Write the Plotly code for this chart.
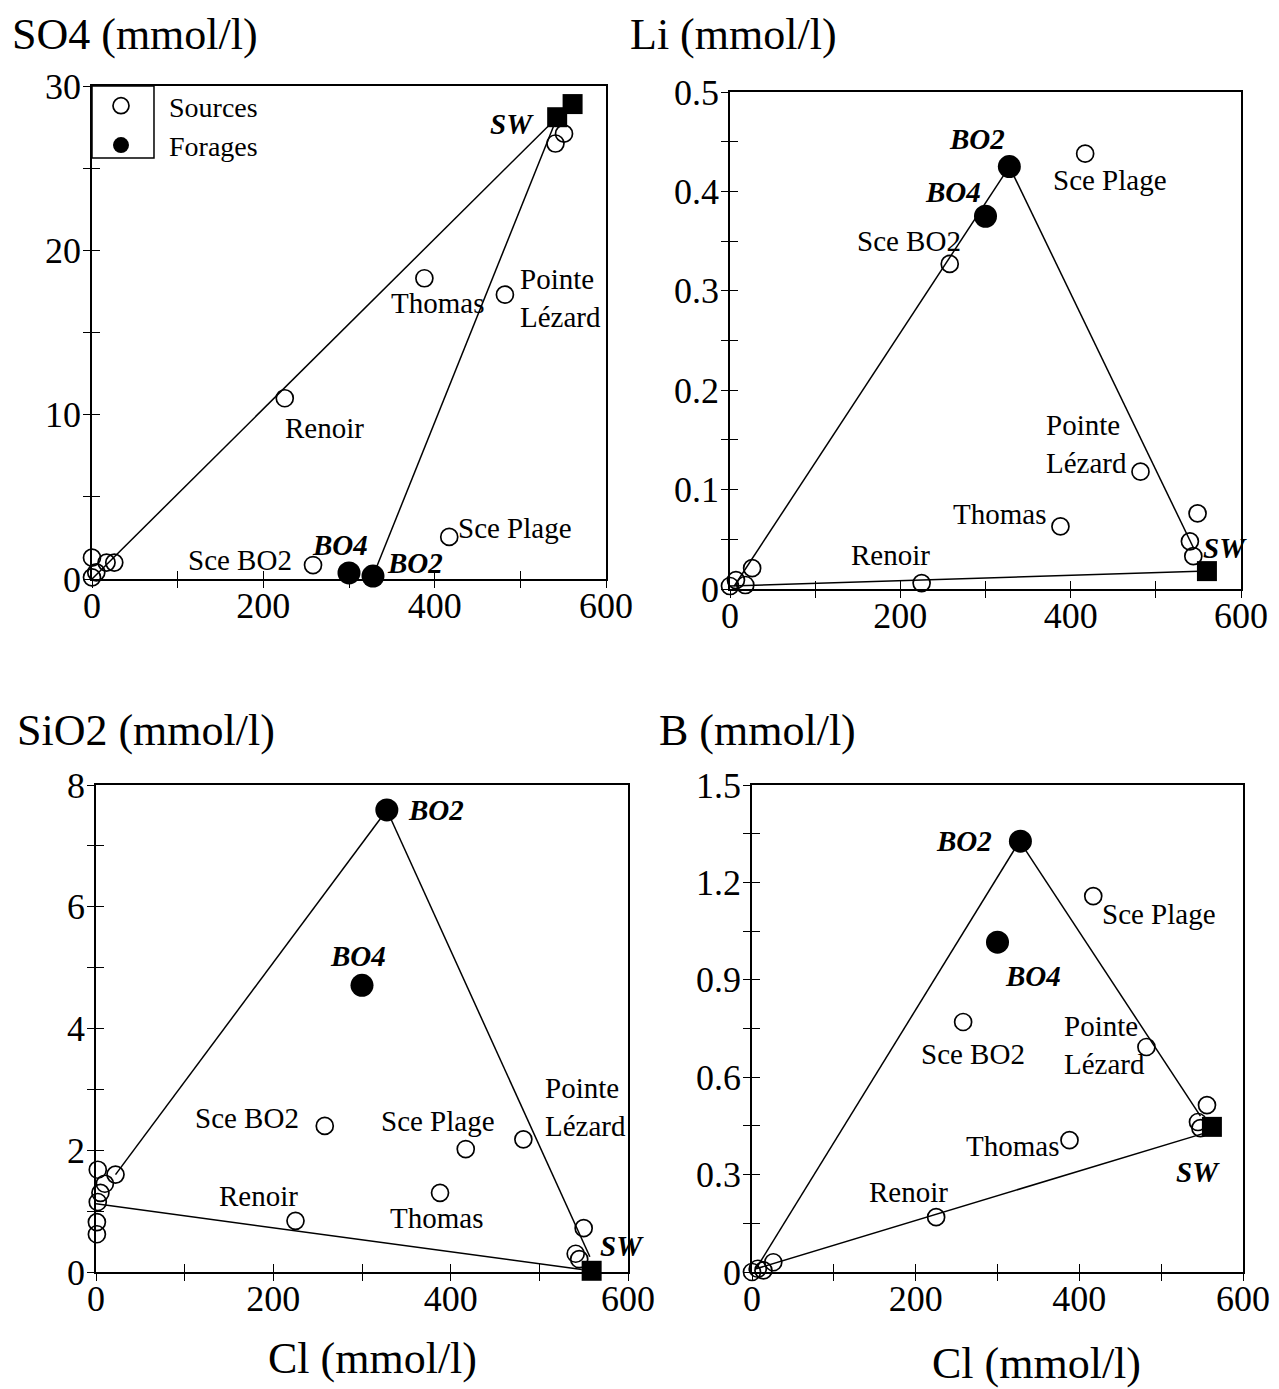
import plotly.graph_objects as go

FONT = "Liberation Serif"

# ---------------- data (Cl in mmol/l on x) ----------------
named_labels = ["Renoir", "Thomas", "Pointe<br>Lézard", "Sce Plage", "Sce BO2"]
named_cl = [225, 388, 482, 417, 258]
bo_labels = ["BO2", "BO4"]
bo_cl = [328, 300]

# SO4 panel
so4_fresh_cl = [0, 17, 26, 5, 0]
so4_fresh = [1.3, 1.0, 1.0, 0.4, 0.1]
so4_named = [11.0, 18.3, 17.3, 2.56, 0.85]
so4_sea_cl = [541, 551]
so4_sea = [26.5, 27.1]
so4_bo = [0.18, 0.37]
so4_sw_cl = [543, 561]
so4_sw = [28.1, 28.9]
so4_lines = [([0, 543], [0.0, 28.1]), ([328, 543], [0.18, 28.1])]

# Li panel
li_fresh_cl = [0, 7, 18, 26]
li_fresh = [0.003, 0.009, 0.004, 0.021]
li_named = [0.006, 0.063, 0.118, 0.438, 0.327]
li_sea_cl = [549, 540, 544]
li_sea = [0.076, 0.048, 0.033]
li_bo = [0.425, 0.375]
li_sw_cl = [560]
li_sw = [0.018]
li_lines = [([5, 328], [0.003, 0.425]), ([328, 545], [0.425, 0.040]),
            ([0, 560], [0.003, 0.018])]

# SiO2 panel
si_fresh_cl = [2, 22, 10, 5, 2, 1, 1]
si_fresh = [1.68, 1.60, 1.45, 1.30, 1.15, 0.82, 0.62]
si_named = [0.84, 1.30, 2.18, 2.02, 2.40]
si_sea_cl = [550, 541, 545]
si_sea = [0.72, 0.30, 0.21]
si_bo = [7.59, 4.71]
si_sw_cl = [559]
si_sw = [0.02]
si_lines = [([22, 328], [1.60, 7.59]), ([328, 557], [7.59, 0.25]),
            ([0, 548], [1.12, 0.04])]

# B panel
b_fresh_cl = [0, 7, 26, 14]
b_fresh = [0.0, 0.01, 0.03, 0.005]
b_named = [0.169, 0.406, 0.693, 1.158, 0.77]
b_sea_cl = [556, 545, 548]
b_sea = [0.514, 0.462, 0.443]
b_bo = [1.327, 1.016]
b_sw_cl = [562]
b_sw = [0.447]
b_lines = [([5, 327], [0.01, 1.327]), ([327, 548], [1.327, 0.48]),
           ([5, 556], [0.01, 0.43])]

# tick labels
x_tickvals = [0, 100, 200, 300, 400, 500, 600]
x_ticktext = ["0", "", "200", "", "400", "", "600"]
so4_tickvals = [0, 5, 10, 15, 20, 25, 30]
so4_ticktext = ["0", "", "10", "", "20", "", "30"]
li_tickvals = [0, 0.05, 0.1, 0.15, 0.2, 0.25, 0.3, 0.35, 0.4, 0.45, 0.5]
li_ticktext = ["0", "", "0.1", "", "0.2", "", "0.3", "", "0.4", "", "0.5"]
si_tickvals = [0, 1, 2, 3, 4, 5, 6, 7, 8]
si_ticktext = ["0", "", "2", "", "4", "", "6", "", "8"]
b_tickvals = [0, 0.15, 0.3, 0.45, 0.6, 0.75, 0.9, 1.05, 1.2, 1.35, 1.5]
b_ticktext = ["0", "", "0.3", "", "0.6", "", "0.9", "", "1.2", "", "1.5"]

# page is offset by the 8px body margin
OFF = 8
W, H = 1279 - OFF, 1389 - OFF


def fx(px):
    return (px - OFF) / W


def fy(py):
    return 1 - (py - OFF) / H


# panel pixel boxes (left, right, top, bottom) in page pixels
panels = [
    dict(box=(92, 606, 86, 579), yr=[0, 30], tv=so4_tickvals, tt=so4_ticktext,
         fresh=(so4_fresh_cl, so4_fresh), named=so4_named, sea=(so4_sea_cl, so4_sea),
         bo=so4_bo, sw=(so4_sw_cl, so4_sw), lines=so4_lines,
         offs=dict(SW=(-45, 7), Renoir=(40, 30), Thomas=(13, 25), Pointe=(13, 3),
                   Plage=(66, -9), SceBO2=(-73, -5), BO2=(42, -13), BO4=(-9, -28))),
    dict(box=(730, 1241, 92, 589), yr=[0, 0.5], tv=li_tickvals, tt=li_ticktext,
         fresh=(li_fresh_cl, li_fresh), named=li_named, sea=(li_sea_cl, li_sea),
         bo=li_bo, sw=(li_sw_cl, li_sw), lines=li_lines,
         offs=dict(SW=(18, -23), Renoir=(-31, -28), Thomas=(-61, -12), Pointe=(-97, -28),
                   Plage=(25, 26), SceBO2=(-41, -23), BO2=(-32, -28), BO4=(-33, -24))),
    dict(box=(96, 628, 785, 1272), yr=[0, 8], tv=si_tickvals, tt=si_ticktext,
         fresh=(si_fresh_cl, si_fresh), named=si_named, sea=(si_sea_cl, si_sea),
         bo=si_bo, sw=(si_sw_cl, si_sw), lines=si_lines,
         offs=dict(SW=(30, -25), Renoir=(-37, -25), Thomas=(-4, 25), Pointe=(20, -32),
                   Plage=(-28, -28), SceBO2=(-78, -8), BO2=(49, 0), BO4=(-4, -29))),
    dict(box=(752, 1243, 785, 1272), yr=[0, 1.5], tv=b_tickvals, tt=b_ticktext,
         fresh=(b_fresh_cl, b_fresh), named=b_named, sea=(b_sea_cl, b_sea),
         bo=b_bo, sw=(b_sw_cl, b_sw), lines=b_lines,
         offs=dict(SW=(-14, 45), Renoir=(-28, -25), Thomas=(-57, 6), Pointe=(-84, -2),
                   Plage=(66, 18), SceBO2=(10, 32), BO2=(-56, 0), BO4=(35, 34))),
]

fig = go.Figure()
layout = dict(template="none", width=W, height=H,
              margin=dict(l=0, r=0, t=0, b=0, pad=0, autoexpand=False),
              paper_bgcolor="white", plot_bgcolor="white",
              font=dict(family=FONT, size=29, color="black"), showlegend=True)
annotations = []
shapes = []

LBL = 29
for i, p in enumerate(panels, start=1):
    l, r, t, b = p["box"]
    xd = [fx(l), fx(r)]
    yd = [fy(b), fy(t)]
    xs, ys = ("x" if i == 1 else f"x{i}"), ("y" if i == 1 else f"y{i}")
    j = i + 4
    axcommon = dict(showgrid=False, zeroline=False, ticks="inside", ticklen=8,
                    tickwidth=1.3, tickcolor="black", linecolor="black", linewidth=1.7,
                    showline=True, mirror=True, automargin=False,
                    tickfont=dict(family=FONT, size=36, color="black"))
    layout[f"xaxis{i}"] = dict(domain=xd, range=[0, 600], anchor=ys, tickmode="array",
                               tickvals=x_tickvals, ticktext=x_ticktext,
                               ticklabelstandoff=-6, **axcommon)
    layout[f"yaxis{i}"] = dict(domain=yd, range=p["yr"], anchor=xs, tickmode="array",
                               tickvals=p["tv"], ticktext=p["tt"],
                               ticklabelstandoff=2, **axcommon)
    outside = dict(showgrid=False, zeroline=False, ticks="outside", ticklen=8, tickwidth=1.3,
                   tickcolor="black", showline=False, showticklabels=False, tickmode="array",
                   automargin=False)
    layout[f"xaxis{j}"] = dict(overlaying=xs, anchor=f"y{j}", range=[0, 600],
                               tickvals=x_tickvals, **outside)
    layout[f"yaxis{j}"] = dict(overlaying=ys, anchor=f"x{j}", range=p["yr"],
                               tickvals=p["tv"], **outside)
    fig.add_trace(go.Scatter(x=[None], y=[None], xaxis=f"x{j}", yaxis=f"y{j}",
                             showlegend=False, hoverinfo="skip"))

    # mixing lines
    for lx, ly in p["lines"]:
        fig.add_trace(go.Scatter(x=lx, y=ly, mode="lines", xaxis=xs, yaxis=ys,
                                 line=dict(color="black", width=1.5),
                                 showlegend=False, hoverinfo="skip"))
    src_x = p["fresh"][0] + named_cl + p["sea"][0]
    src_y = p["fresh"][1] + p["named"] + p["sea"][1]
    fig.add_trace(go.Scatter(x=src_x, y=src_y, mode="markers", xaxis=xs, yaxis=ys,
                             marker=dict(symbol="circle-open", size=17,
                                         line=dict(color="black", width=1.7), color="black"),
                             cliponaxis=False, showlegend=False, name="Sources"))
    fig.add_trace(go.Scatter(x=bo_cl, y=p["bo"], mode="markers", xaxis=xs, yaxis=ys,
                             marker=dict(symbol="circle", size=23, color="black"),
                             cliponaxis=False, showlegend=False, name="Forages"))
    fig.add_trace(go.Scatter(x=p["sw"][0], y=p["sw"][1], mode="markers", xaxis=xs, yaxis=ys,
                             marker=dict(symbol="square", size=20, color="black"),
                             cliponaxis=False, showlegend=False, name="SW"))

    offs = p["offs"]
    keys = ["Renoir", "Thomas", "Pointe", "Plage", "SceBO2"]
    for k, txt, cx, cy in zip(keys, named_labels, named_cl, p["named"]):
        dx, dy = offs[k]
        annotations.append(dict(x=cx, y=cy, xref=xs, yref=ys, text=txt, showarrow=False,
                                xanchor="left" if k == "Pointe" else "center",
                                align="left", yanchor="middle", xshift=dx, yshift=-dy,
                                font=dict(family=FONT, size=LBL, color="black")))
    for txt, cx, cy in zip(bo_labels, bo_cl, p["bo"]):
        dx, dy = offs[txt]
        annotations.append(dict(x=cx, y=cy, xref=xs, yref=ys, text=f"<b><i>{txt}</i></b>",
                                showarrow=False, xanchor="center", yanchor="middle",
                                xshift=dx, yshift=-dy,
                                font=dict(family=FONT, size=LBL, color="black")))
    dx, dy = offs["SW"]
    annotations.append(dict(x=p["sw"][0][0], y=p["sw"][1][0], xref=xs, yref=ys,
                            text="<b><i>SW</i></b>", showarrow=False, xanchor="center",
                            yanchor="middle", xshift=dx, yshift=-dy,
                            font=dict(family=FONT, size=LBL, color="black")))

# legend entries (legend-only traces)
fig.add_trace(go.Scatter(x=[None], y=[None], mode="markers", name="Sources",
                         marker=dict(symbol="circle-open", size=17, color="black",
                                     line=dict(color="black", width=1.7))))
fig.add_trace(go.Scatter(x=[None], y=[None], mode="markers", name="Forages",
                         marker=dict(symbol="circle", size=23, color="black")))
layout["legend"] = dict(x=fx(73), xanchor="left", y=fy(81), yanchor="top",
                        bgcolor="rgba(0,0,0,0)", borderwidth=0, itemwidth=86,
                        font=dict(family=FONT, size=28, color="black"),
                        tracegroupgap=0, itemclick=False)
shapes.append(dict(type="rect", xref="x domain", yref="y domain", x0=0, x1=0.1206,
                   y0=0.854, y1=1, line=dict(color="black", width=1.5)))

# axis titles
titles = [("SO4 (mmol/l)", 10, 35), ("Li (mmol/l)", 628, 35),
          ("SiO2 (mmol/l)", 15, 730), ("B (mmol/l)", 657, 730)]
for txt, px, py in titles:
    annotations.append(dict(x=fx(px), y=fy(py), xref="paper", yref="paper", text=txt,
                            showarrow=False, xanchor="left", yanchor="middle",
                            font=dict(family=FONT, size=44, color="black")))
for px, py in [(372, 1358), (1036, 1363)]:
    annotations.append(dict(x=fx(px), y=fy(py), xref="paper", yref="paper",
                            text="Cl (mmol/l)", showarrow=False, xanchor="center",
                            yanchor="middle", font=dict(family=FONT, size=44, color="black")))

layout["annotations"] = annotations
layout["shapes"] = shapes
fig.update_layout(**layout)
fig.write_html("out.html")
